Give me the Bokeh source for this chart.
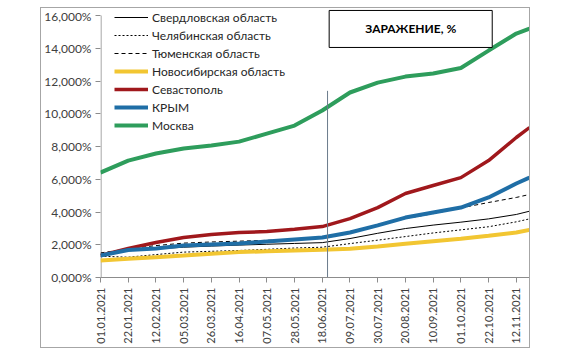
from bokeh.plotting import figure
from bokeh.layouts import column
from bokeh.models import Range1d, FixedTicker, Label, Legend, LegendItem, CustomJSTickFormatter
from bokeh.embed import file_html
from bokeh.resources import INLINE
import math

# day index since 01.01.2021
days = [0, 21, 42, 63, 84, 105, 126, 147, 168, 189, 210, 231, 252, 273, 294, 315, 325]

tick_days = [0, 21, 42, 63, 84, 105, 126, 147, 168, 189, 210, 231, 252, 273, 294, 315]
tick_labels = ["01.01.2021", "22.01.2021", "12.02.2021", "05.03.2021", "26.03.2021",
               "16.04.2021", "07.05.2021", "28.05.2021", "18.06.2021", "09.07.2021",
               "30.07.2021", "20.08.2021", "10.09.2021", "01.10.2021", "22.10.2021",
               "12.11.2021"]
y_ticks = [0, 2, 4, 6, 8, 10, 12, 14, 16]

sverdlovsk = [1.40, 1.65, 1.75, 1.85, 1.92, 1.98, 2.03, 2.08, 2.13, 2.38, 2.70, 2.99, 3.20, 3.38, 3.58, 3.85, 4.05]
chelyabinsk = [1.30, 1.24, 1.40, 1.55, 1.60, 1.65, 1.72, 1.80, 1.85, 2.07, 2.28, 2.50, 2.72, 2.91, 3.10, 3.40, 3.58]
tyumen = [1.50, 1.75, 1.95, 2.10, 2.17, 2.22, 2.27, 2.32, 2.40, 2.75, 3.15, 3.60, 3.90, 4.25, 4.58, 4.89, 5.07]
novosibirsk = [1.04, 1.14, 1.24, 1.34, 1.45, 1.55, 1.60, 1.65, 1.69, 1.75, 1.90, 2.06, 2.22, 2.36, 2.55, 2.75, 2.91]
sevastopol = [1.34, 1.77, 2.14, 2.44, 2.63, 2.75, 2.81, 2.95, 3.11, 3.60, 4.27, 5.13, 5.62, 6.10, 7.14, 8.55, 9.16]
krym = [1.34, 1.68, 1.77, 1.95, 2.02, 2.08, 2.20, 2.32, 2.44, 2.75, 3.18, 3.66, 3.97, 4.27, 4.89, 5.74, 6.10]
moskva = [6.41, 7.14, 7.57, 7.88, 8.06, 8.30, 8.79, 9.28, 10.20, 11.30, 11.90, 12.27, 12.46, 12.80, 13.86, 14.90, 15.20]

marker_day = 172
marker_top = 11.4

FONT = "Lato"

# y range extends a little above 16% so the legend (which sits above the 16% tick) is not clipped
p = figure(width=488, height=339, output_backend="svg", toolbar_location=None,
           x_range=Range1d(0, 325), y_range=Range1d(0, 16.43),
           min_border_left=56, min_border_right=0, min_border_top=0, min_border_bottom=70)
p.outline_line_color = None
p.background_fill_color = "white"
p.border_fill_color = "white"
p.xgrid.visible = False
p.ygrid.visible = False

p.yaxis.ticker = FixedTicker(ticks=y_ticks)
p.yaxis.formatter = CustomJSTickFormatter(code="return tick.toFixed(3).replace('.', ',') + '%';")
p.xaxis.ticker = FixedTicker(ticks=tick_days)
p.xaxis.major_label_overrides = {d: s for d, s in zip(tick_days, tick_labels)}
p.xaxis.major_label_orientation = math.pi / 2

for ax in (p.xaxis, p.yaxis):
    ax.axis_line_color = "#8c8c8c"
    ax.major_tick_line_color = "#8c8c8c"
    ax.major_tick_out = 5
    ax.major_tick_in = 0
    ax.minor_tick_line_color = None
    ax.major_label_text_font = FONT
    ax.major_label_text_color = "#404040"
p.yaxis.axis_line_color = None
p.yaxis.major_label_text_font_size = "12px"
p.xaxis.major_label_text_font_size = "11px"
p.yaxis.major_label_standoff = 4
p.xaxis.major_label_standoff = 5

# value axis line drawn only up to the top tick
p.segment(x0=[0.4], y0=[y_ticks[0]], x1=[0.4], y1=[y_ticks[-1]], line_color="#8c8c8c", line_width=1)

r_sv = p.line(days, sverdlovsk, line_color="black", line_width=1)
r_ch = p.line(days, chelyabinsk, line_color="black", line_width=1, line_dash="2 2")
r_ty = p.line(days, tyumen, line_color="black", line_width=1, line_dash="4 3")
r_no = p.line(days, novosibirsk, line_color="#f2c632", line_width=4)
r_se = p.line(days, sevastopol, line_color="#a0181c", line_width=3.5)
r_kr = p.line(days, krym, line_color="#1f6ea6", line_width=4)
r_mo = p.line(days, moskva, line_color="#2e9d5c", line_width=4)

p.segment(x0=[marker_day], y0=[0], x1=[marker_day], y1=[marker_top], line_color="#6b7b8c", line_width=1)

legend = Legend(items=[
    LegendItem(label="Свердловская область", renderers=[r_sv]),
    LegendItem(label="Челябинская область", renderers=[r_ch]),
    LegendItem(label="Тюменская область", renderers=[r_ty]),
    LegendItem(label="Новосибирская область", renderers=[r_no]),
    LegendItem(label="Севастополь", renderers=[r_se]),
    LegendItem(label="КРЫМ", renderers=[r_kr]),
    LegendItem(label="Москва", renderers=[r_mo]),
], location=(14, 143))
legend.border_line_color = None
legend.background_fill_alpha = 0
legend.padding = 0
legend.margin = 0
legend.spacing = 0
legend.label_height = 18
legend.glyph_height = 18
legend.glyph_width = 34
legend.label_standoff = 4
legend.label_text_font = FONT
legend.label_text_font_size = "12px"
legend.label_text_color = "#262626"
p.add_layout(legend, "center")

title = Label(x=235, y=15.18, text="ЗАРАЖЕНИЕ, %", text_align="center", text_baseline="middle",
              text_font=FONT, text_font_size="12px", text_font_style="bold", text_color="black",
              border_line_color="black", border_line_width=1, background_fill_color="white",
              padding=(36, 11))
p.add_layout(title)

layout = column(p, margin=(7, 0, 0, 40), styles={"border": "1px solid #a6a6a6"})

open("out.html", "w").write(file_html(layout, INLINE))
